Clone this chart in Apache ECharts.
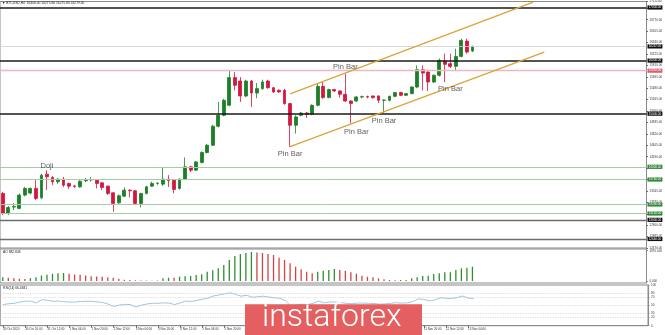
<!DOCTYPE html>
<html><head><meta charset="utf-8">
<script src="https://cdn.jsdelivr.net/npm/echarts@6/dist/echarts.min.js"></script>
<style>html,body{margin:0;padding:0;background:#fff}#c{width:665px;height:335px}</style>
</head><body><div id="c"></div>
<script>
// ---- data ----
const barCount = 86;           // H4 bars, 30 Oct 2020 04:00 .. 13 Nov 2020 08:00
const slotCount = 117;         // visible slots incl. empty right space
const open = [13498,13122,13240,13216,13466,13504,13592,13416,13861,13799,
13716,13767,13686,13640,13622,13735,13752,13748,13697,13635,
13510,13321,13447,13560,13547,13310,13498,13635,13686,13673,
13767,13748,13592,13767,13998,13936,14081,14269,14406,14763,
14970,15158,15679,15615,15333,15615,15389,15472,15615,15490,
15440,15440,15190,14782,14970,15013,14989,15158,15515,15303,
15453,15428,15365,15239,15239,15314,15320,15333,15333,15252,
15252,15327,15397,15346,15378,15502,15829,15784,15596,15722,
15991,15942,15891,16079,16367,16179];
const close = [13122,13235,13250,13466,13592,13592,13404,13842,13810,13716,
13767,13654,13635,13632,13729,13748,13758,13686,13611,13498,
13310,13453,13560,13548,13310,13498,13622,13686,13690,13767,
13740,13573,13767,13998,13936,14092,14269,14406,14763,14970,
15252,15679,15534,15333,15615,15389,15472,15597,15490,15409,
15409,15190,14782,14938,15013,14989,15158,15515,15303,15453,
15428,15365,15239,15190,15315,15320,15312,15303,15252,15256,
15327,15397,15346,15378,15502,15829,15765,15596,15722,16004,
15929,15891,16079,16380,16160,16267];
const low = [13090,13090,13184,13200,13440,13480,13372,13390,13560,13654,
13680,13620,13580,13600,13605,13710,13720,13592,13560,13470,
13152,13300,13430,13420,13278,13235,13480,13620,13660,13640,
13620,13498,13570,13750,13900,13920,14062,14250,14390,14740,
14950,15140,15440,15220,15310,15126,15290,15450,15470,15390,
15390,15170,14374,14626,14950,14920,14970,15140,15280,15290,
15410,15300,15220,14814,15220,15290,15290,15280,15200,15013,
15230,15310,15330,15330,15360,15480,15440,15427,15580,15700,
15596,15860,15816,16060,16130,16160];
const high = [13530,13260,13316,13500,13620,13610,13748,13870,13936,13823,
13785,13810,13700,13660,13745,13790,13800,13770,13710,13650,
13520,13480,13611,13575,13560,13510,13640,13720,13710,13998,
13842,13760,13780,14175,14020,14110,14290,14430,14790,15220,
15280,15816,15785,15690,15640,15635,15577,15640,15640,15500,
15460,15470,15200,14970,15030,15030,15175,15577,15600,15470,
15470,15440,15754,15250,15330,15340,15340,15345,15345,15270,
15340,15410,15410,15390,15515,15910,15910,15800,15740,16040,
16130,16130,16224,16412,16412,16280];
const ao = [235,197,173,136,130,173,235,339,383,444,
481,494,444,401,383,339,296,278,265,235,
197,136,80,62,43,31,28,19,31,167,
204,200,265,290,309,370,413,574,660,784,
987,1296,1543,1666,1728,1790,1758,1728,1666,1604,
1438,1296,1092,882,722,574,475,574,636,679,
740,679,636,537,450,327,265,228,167,105,
62,43,62,60,167,228,309,327,432,475,
537,543,679,784,821,882.846];
const rsi = [51.7,54,55,58,60,60.5,56,64,62.5,60,
60.5,59,58,58,59.5,60,60,58.5,57,53,
47.5,50.5,52.5,52,46,50.5,53.5,55,55,56,
55.5,52,56,60.5,59.5,62,65,67.5,73,75.5,
78,81,77,72.5,75,70,71,72.5,70.5,68.5,
67.5,61.5,48,51,52.5,52,55,60.5,56,58.5,
58,57,55,54,55.5,55.5,55,54.5,53,53.5,
55,56.5,55.5,56,59,66,64.5,61,63.5,68.5,
67.5,66.5,69,73,68,66.4841];
const roundLevels = [17000, 16000, 15000];
const greyLevels = [13000, 12640];
const greenLevels = [14000, 13760, 13290, 13120];
const pinkLevel = 15810;
const upperChannel = [[52, 15374], [96, 17100]];
const lowerChannel = [[52, 14378], [98, 16158]];
const noteText = ['Doji', 'Pin Bar', 'Pin Bar', 'Pin Bar', 'Pin Bar', 'Pin Bar'];
const notePos = [[8, 14011], [52, 14237], [62, 15872], [64, 14650], [69, 14857], [81, 15459]];
const aoTicks = [0, 1870];
const rsiTicks = [0, 20, 30, 50, 70, 80, 100];
const rsiLevels = [20, 30, 50, 70, 80];
const titleText = '\u25BC BTCUSD,H4  16306.00 16275.80 16275.80 16279.40';

// ---- time categories ----
const MON = ['Jan','Feb','Mar','Apr','May','Jun','Jul','Aug','Sep','Oct','Nov','Dec'];
const cats = [];
for (let i = 0; i < slotCount; i++) {
  if (i < barCount) {
    const d = new Date(Date.UTC(2020, 9, 30, 4) + i * 4 * 3600e3);
    const hh = String(d.getUTCHours()).padStart(2, '0');
    cats.push(i === 0 ? d.getUTCDate() + ' ' + MON[d.getUTCMonth()] + ' ' + d.getUTCFullYear()
                      : d.getUTCDate() + ' ' + MON[d.getUTCMonth()] + ' ' + hh + ':00');
  } else cats.push('s' + i);
}
const candleData = open.map((o, i) => [o, close[i], low[i], high[i]]);
const lastPrice = close[barCount - 1];

const FONT = 'Liberation Sans, Arial, sans-serif';
function lvl(v, line, box, w) {
  return { yAxis: v, lineStyle: { color: line, width: w, type: 'solid' },
    label: { show: true, position: 'end', distance: 1, formatter: v.toFixed(2),
      color: '#fff', backgroundColor: box, fontSize: 3, padding: [0.6, 1.2], fontFamily: FONT } };
}
const mainLines = [].concat(
  roundLevels.map(v => lvl(v, '#1a1a1a', '#111', 1.6)),
  greyLevels.map(v => lvl(v, '#6e6e6e', '#111', 1.3)),
  greenLevels.map(v => lvl(v, '#a6cba6', '#2f8a36', 1)),
  [lvl(pinkLevel, '#eab9c2', '#e05b72', 1.3), lvl(lastPrice, '#cfcfcf', '#111', 0.8)]
);

const tickFn = (idx) => idx % 4 === 0 && idx < barCount;
const hiddenX = (gi) => ({ type: 'category', gridIndex: gi, data: cats, boundaryGap: true,
  axisLine: { show: false }, axisTick: { show: false }, axisLabel: { show: false }, splitLine: { show: false } });

const chart = echarts.init(document.getElementById('c'));
chart.setOption({
  animation: false,
  textStyle: { fontFamily: FONT },
  grid: [
    { left: -1, right: 17, top: 1, height: 247, show: true, borderColor: '#8a8a8a', borderWidth: 1 },
    { left: -1, right: 17, top: 249, height: 34, show: true, borderColor: '#8a8a8a', borderWidth: 1 },
    { left: -1, right: 17, top: 285, height: 40.7, show: true, borderColor: '#8a8a8a', borderWidth: 1 }
  ],
  xAxis: [hiddenX(0), hiddenX(1), {
    type: 'category', gridIndex: 2, data: cats, boundaryGap: true,
    axisLine: { show: true, lineStyle: { color: '#8a8a8a', width: 1 } },
    axisTick: { show: true, interval: tickFn, alignWithLabel: true, length: 2, lineStyle: { color: '#666' } },
    axisLabel: { show: true, interval: tickFn, align: 'left', margin: 2, fontSize: 3, color: '#333' },
    splitLine: { show: false }
  }],
  yAxis: [
    { type: 'value', gridIndex: 0, position: 'right', min: 12470, max: 17112.8, interval: 215,
      axisLine: { show: true, lineStyle: { color: '#8a8a8a' } },
      axisTick: { show: true, length: 1.5, lineStyle: { color: '#666' } },
      axisLabel: { fontSize: 3, margin: 3, color: '#333', formatter: v => v.toFixed(2) },
      splitLine: { show: false } },
    { type: 'value', gridIndex: 1, position: 'right', min: -123.4, max: 1974,
      axisLine: { show: true, lineStyle: { color: '#8a8a8a' } },
      axisTick: { show: true, length: 1.5, customValues: aoTicks },
      axisLabel: { fontSize: 3, margin: 3, color: '#333', customValues: aoTicks, formatter: v => v.toFixed(3) },
      splitLine: { show: false } },
    { type: 'value', gridIndex: 2, position: 'right', min: 0, max: 100,
      axisLine: { show: true, lineStyle: { color: '#8a8a8a' } },
      axisTick: { show: true, length: 1.5, customValues: rsiTicks },
      axisLabel: { fontSize: 3, margin: 3, color: '#333', customValues: rsiTicks },
      splitLine: { show: false } }
  ],
  series: [
    { type: 'candlestick', xAxisIndex: 0, yAxisIndex: 0, data: candleData, barWidth: 3.3,
      itemStyle: { color: '#1d7f27', color0: '#d3173f', borderColor: '#1d7f27', borderColor0: '#d3173f', borderWidth: 0.8 },
      markLine: { silent: true, symbol: 'none', data: mainLines, z: 3 } },
    { type: 'line', xAxisIndex: 0, yAxisIndex: 0, data: upperChannel, showSymbol: false, symbol: 'none',
      lineStyle: { color: '#d8a53c', width: 1.4 }, z: 4 },
    { type: 'line', xAxisIndex: 0, yAxisIndex: 0, data: lowerChannel, showSymbol: false, symbol: 'none',
      lineStyle: { color: '#d8a53c', width: 1.4 }, z: 4 },
    { type: 'scatter', xAxisIndex: 0, yAxisIndex: 0, data: notePos, symbolSize: 1,
      itemStyle: { color: 'transparent' }, z: 5,
      label: { show: true, position: 'inside', formatter: p => noteText[p.dataIndex],
        fontSize: 7.5, color: '#333', fontFamily: FONT } },
    { type: 'bar', xAxisIndex: 1, yAxisIndex: 1, data: ao, barWidth: 1.3,
      itemStyle: { color: p => (p.dataIndex === 0 || ao[p.dataIndex] > ao[p.dataIndex - 1]) ? '#2f8f2f' : '#d24444' } },
    { type: 'line', xAxisIndex: 2, yAxisIndex: 2, data: rsi, showSymbol: false, symbol: 'none',
      lineStyle: { color: '#8ec1e2', width: 0.9 },
      markLine: { silent: true, symbol: 'none', label: { show: false },
        lineStyle: { color: '#b8b8b8', width: 0.6, type: [1, 1.5] },
        data: rsiLevels.map(v => ({ yAxis: v })) } }
  ],
  graphic: [
    { type: 'text', left: 2, top: 1.5, style: { text: titleText, fontSize: 3.3, fill: '#222', fontFamily: FONT }, z: 10 },
    { type: 'text', left: 3, top: 250.5, style: { text: 'AO 882.846', fontSize: 3.3, fill: '#222', fontFamily: FONT }, z: 10 },
    { type: 'text', left: 3, top: 286.3, style: { text: 'RSI(14) 66.4841', fontSize: 3.3, fill: '#222', fontFamily: FONT }, z: 10 },
    { type: 'rect', shape: { x: 245, y: 304.3, width: 177, height: 31 }, style: { fill: '#e35f60' }, z: 100 },
    { type: 'text', x: 262, y: 318, style: { text: 'instaforex', fontSize: 32, fill: '#fff',
        fontFamily: 'Roboto, sans-serif', fontWeight: 300, textVerticalAlign: 'middle', textAlign: 'left' }, z: 101 }
  ]
});
</script></body></html>
